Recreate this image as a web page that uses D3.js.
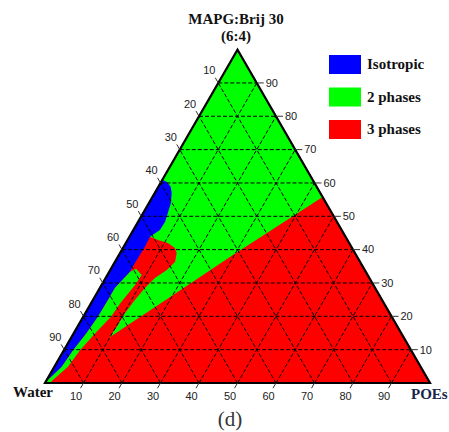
<!DOCTYPE html>
<html>
<head>
<meta charset="utf-8">
<script src="https://cdn.jsdelivr.net/npm/d3@7"></script>
<style>
  body { margin: 0; background: #fff; }
  svg { display: block; }
</style>
</head>
<body>
<svg id="chart" width="449" height="432"></svg>
<script>
// phase diagram data, points are [POEs %, MAPG %] (Water = rest)
var ticks = [10, 20, 30, 40, 50, 60, 70, 80, 90];
var phaseNames = ["Isotropic", "2 phases", "3 phases"];
var phaseColors = ["#0000ff", "#00ff00", "#ff0000"];

// red / green border (straight one, from right side to the tip)
var redLine = [[44.2, 55.8], [29.6, 38.4], [19.6, 25.8], [9.7, 13.4]];
// red tongue, from tip going up to where it meets the blue
var tongue = [[9.9, 13.9], [10.2, 16.9], [10.3, 21.0], [10.9, 24.9], [11.7, 28.5],
              [12.8, 31.5], [14.7, 33.9], [15.6, 36.4], [14.7, 39.0], [13.5, 40.5],
              [10.9, 42.0], [7.9, 42.9], [5.3, 43.9]];
// blue border, from the top of blue down to the green finger
var blueEdge = [[0, 60.9], [1.4, 60.4], [3.2, 58.9], [4.4, 57.0], [5.7, 54.0],
                [6.4, 51.0], [7.0, 48.4], [6.9, 45.9], [5.3, 43.9], [5.5, 40.9],
                [5.4, 37.5], [5.3, 34.5]];
// thin green finger along the blue
var fingerLeft = [[5.4, 33.4], [3.9, 28.5], [3.9, 24.9], [3.8, 19.9], [3.3, 15.0],
                  [2.4, 9.9], [1.9, 4.9], [0.3, 0.9], [0, 0]];
var fingerRight = [[6.5, 34.3], [8.9, 32.4], [8.7, 29.4], [7.6, 24.0], [7.2, 19.9],
                   [5.6, 15.0], [4.2, 9.9], [3.5, 4.9], [1.6, 0.9], [1.3, 0]];

var svg = d3.select('#chart');

// ternary -> screen through two linear scales
var xs = d3.scaleLinear().domain([0, 100]).range([45, 430]);
var ys = d3.scaleLinear().domain([0, 100]).range([383, 49.6]);
function px(d) { return xs(d[0] + d[1] / 2); }
function py(d) { return ys(d[1]); }
var line = d3.line().x(px).y(py);

var triangle = [[0, 0], [100, 0], [0, 100]];

// 3 phases: whole triangle first
svg.append('path')
  .attr('d', line(triangle) + 'Z')
  .attr('fill', phaseColors[2]);

// 2 phases (big area on top)
var green = [[0, 100]].concat(redLine, tongue, [[0, 43.9]]);
svg.append('path')
  .attr('d', line(green) + 'Z')
  .attr('fill', phaseColors[1]);

// isotropic
var blue = blueEdge.concat(fingerLeft);
svg.append('path')
  .attr('d', line(blue) + 'Z')
  .attr('fill', phaseColors[0]);

// green finger
var finger = fingerLeft.concat(fingerRight.slice().reverse());
svg.append('path')
  .attr('d', line(finger) + 'Z')
  .attr('fill', phaseColors[1]);

// dashed grid
var gridLines = [];
ticks.forEach(function(v) {
  gridLines.push([[0, v], [100 - v, v]]);       // MAPG const
  gridLines.push([[v, 0], [v, 100 - v]]);       // POEs const
  gridLines.push([[100 - v, 0], [0, 100 - v]]); // Water const
});
svg.append('g').selectAll('path')
  .data(gridLines)
  .enter().append('path')
  .attr('d', function(d) { return line(d); })
  .attr('stroke', '#000')
  .attr('stroke-width', 1)
  .attr('stroke-dasharray', '4,2')
  .attr('fill', 'none');

// outline
svg.append('path')
  .attr('d', line(triangle) + 'Z')
  .attr('fill', 'none')
  .attr('stroke', '#000')
  .attr('stroke-width', 2.2)
  .attr('stroke-linejoin', 'miter');

// axis ticks + labels
var tickFont = "'Liberation Sans', Arial, sans-serif";
var axes = [
  // left side = Water
  { pt: function(v) { return [0, 100 - v]; }, dx: -3, dy: -5.2, lx: -9, ly: -12.5, anchor: 'middle' },
  // right side = MAPG
  { pt: function(v) { return [100 - v, v]; }, dx: 7, dy: 0, lx: 9, ly: 0, anchor: 'start' },
  // bottom = POEs
  { pt: function(v) { return [v, 0]; }, dx: -3, dy: 5.2, lx: -7.5, ly: 13, anchor: 'middle' }
];
axes.forEach(function(ax) {
  var g = svg.append('g');
  g.selectAll('line')
    .data(ticks)
    .enter().append('line')
    .attr('x1', function(v) { return px(ax.pt(v)); })
    .attr('y1', function(v) { return py(ax.pt(v)); })
    .attr('x2', function(v) { return px(ax.pt(v)) + ax.dx; })
    .attr('y2', function(v) { return py(ax.pt(v)) + ax.dy; })
    .attr('stroke', '#333')
    .attr('stroke-width', 1);
  g.selectAll('text')
    .data(ticks)
    .enter().append('text')
    .attr('x', function(v) { return px(ax.pt(v)) + ax.lx; })
    .attr('y', function(v) { return py(ax.pt(v)) + ax.ly; })
    .attr('dy', '0.35em')
    .attr('text-anchor', ax.anchor)
    .style('font-family', tickFont)
    .style('font-size', '11px')
    .attr('fill', '#222')
    .text(function(v) { return v; });
});

// corner names
var serif = "'Liberation Serif', 'Times New Roman', serif";
svg.append('text')
  .attr('x', 236).attr('y', 24)
  .attr('text-anchor', 'middle')
  .style('font-family', serif).style('font-weight', 'bold').style('font-size', '15px')
  .attr('fill', '#111')
  .text('MAPG:Brij 30');
svg.append('text')
  .attr('x', 236).attr('y', 41)
  .attr('text-anchor', 'middle')
  .style('font-family', serif).style('font-weight', 'bold').style('font-size', '15px')
  .attr('fill', '#111')
  .text('(6:4)');
svg.append('text')
  .attr('x', 13).attr('y', 397)
  .style('font-family', serif).style('font-weight', 'bold').style('font-size', '15px')
  .attr('fill', '#111')
  .text('Water');
svg.append('text')
  .attr('x', 411).attr('y', 399)
  .style('font-family', serif).style('font-weight', 'bold').style('font-size', '15px')
  .attr('fill', '#17284a')
  .text('POEs');
svg.append('text')
  .attr('x', 230).attr('y', 426)
  .attr('text-anchor', 'middle')
  .style('font-family', serif).style('font-size', '21px')
  .attr('fill', '#333')
  .text('(d)');

// legend
var legend = svg.append('g').attr('transform', 'translate(329,55)');
var item = legend.selectAll('g')
  .data(phaseNames)
  .enter().append('g')
  .attr('transform', function(d, i) { return 'translate(0,' + (i * 32.5) + ')'; });
item.append('rect')
  .attr('width', 32).attr('height', 19)
  .attr('fill', function(d, i) { return phaseColors[i]; });
item.append('text')
  .attr('x', 38).attr('y', 14)
  .style('font-family', serif).style('font-weight', 'bold').style('font-size', '15px')
  .attr('fill', '#111')
  .text(function(d) { return d; });
</script>
</body>
</html>
